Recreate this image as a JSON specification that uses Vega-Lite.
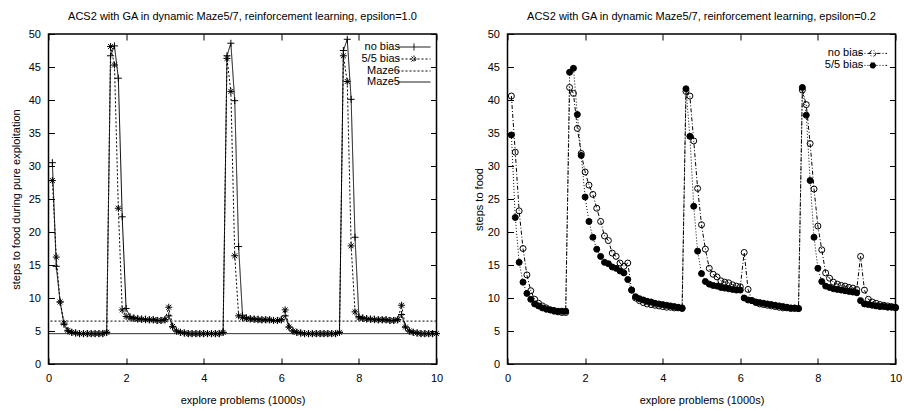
{
  "$schema": "https://vega.github.io/schema/vega-lite/v6.json",
  "padding": {"left": 9.5, "top": 9, "right": 5, "bottom": 5},
  "background": "white",
  "bounds": "flush",
  "spacing": 71,
  "config": {
    "font": "Liberation Sans",
    "view": {"stroke": "black", "strokeWidth": 1.5},
    "axis": {"grid": false, "domain": false, "ticks": true, "tickColor": "black", "tickWidth": 1, "tickSize": -6, "labelFlush": false, "labelFontSize": 11, "labelColor": "black", "titleFontSize": 11, "titleFontWeight": "normal", "titleColor": "black", "labelFont": "Liberation Sans", "titleFont": "Liberation Sans"},
    "axisBottom": {"labelPadding": 14, "titlePadding": 11},
    "axisLeft": {"labelPadding": 14, "titlePadding": 7},
    "title": {"fontSize": 11, "fontWeight": "normal", "font": "Liberation Sans", "color": "black", "frame": "group", "offset": 7, "dy": 0.5, "baseline": "alphabetic"}
  },
  "datasets": {
    "mazes": [{"series": "Maze6", "y": 6.5}, {"series": "Maze5", "y": 4.6}],
    "left": [
      {"x":0.1,"y":30.5,"series":"no bias"},{"x":0.2,"y":14.8,"series":"no bias"},{"x":0.3,"y":9.4,"series":"no bias"},{"x":0.4,"y":6.0,"series":"no bias"},{"x":0.5,"y":5.0,"series":"no bias"},
      {"x":0.6,"y":4.8,"series":"no bias"},{"x":0.7,"y":4.7,"series":"no bias"},{"x":0.8,"y":4.6,"series":"no bias"},{"x":0.9,"y":4.6,"series":"no bias"},{"x":1.0,"y":4.6,"series":"no bias"},
      {"x":1.1,"y":4.6,"series":"no bias"},{"x":1.2,"y":4.6,"series":"no bias"},{"x":1.3,"y":4.6,"series":"no bias"},{"x":1.4,"y":4.6,"series":"no bias"},{"x":1.5,"y":4.8,"series":"no bias"},
      {"x":1.6,"y":46.7,"series":"no bias"},{"x":1.7,"y":48.2,"series":"no bias"},{"x":1.8,"y":43.3,"series":"no bias"},{"x":1.9,"y":22.3,"series":"no bias"},{"x":2.0,"y":8.4,"series":"no bias"},
      {"x":2.1,"y":7.2,"series":"no bias"},{"x":2.2,"y":7.0,"series":"no bias"},{"x":2.3,"y":6.9,"series":"no bias"},{"x":2.4,"y":6.8,"series":"no bias"},{"x":2.5,"y":6.8,"series":"no bias"},
      {"x":2.6,"y":6.7,"series":"no bias"},{"x":2.7,"y":6.7,"series":"no bias"},{"x":2.8,"y":6.6,"series":"no bias"},{"x":2.9,"y":6.6,"series":"no bias"},{"x":3.0,"y":6.7,"series":"no bias"},
      {"x":3.1,"y":7.3,"series":"no bias"},{"x":3.2,"y":5.6,"series":"no bias"},{"x":3.3,"y":5.0,"series":"no bias"},{"x":3.4,"y":4.8,"series":"no bias"},{"x":3.5,"y":4.7,"series":"no bias"},
      {"x":3.6,"y":4.6,"series":"no bias"},{"x":3.7,"y":4.6,"series":"no bias"},{"x":3.8,"y":4.6,"series":"no bias"},{"x":3.9,"y":4.6,"series":"no bias"},{"x":4.0,"y":4.6,"series":"no bias"},
      {"x":4.1,"y":4.6,"series":"no bias"},{"x":4.2,"y":4.6,"series":"no bias"},{"x":4.3,"y":4.6,"series":"no bias"},{"x":4.4,"y":4.6,"series":"no bias"},{"x":4.5,"y":4.8,"series":"no bias"},
      {"x":4.6,"y":46.7,"series":"no bias"},{"x":4.7,"y":48.6,"series":"no bias"},{"x":4.8,"y":39.9,"series":"no bias"},{"x":4.9,"y":17.8,"series":"no bias"},{"x":5.0,"y":7.4,"series":"no bias"},
      {"x":5.1,"y":7.0,"series":"no bias"},{"x":5.2,"y":6.9,"series":"no bias"},{"x":5.3,"y":6.8,"series":"no bias"},{"x":5.4,"y":6.8,"series":"no bias"},{"x":5.5,"y":6.7,"series":"no bias"},
      {"x":5.6,"y":6.7,"series":"no bias"},{"x":5.7,"y":6.7,"series":"no bias"},{"x":5.8,"y":6.6,"series":"no bias"},{"x":5.9,"y":6.6,"series":"no bias"},{"x":6.0,"y":6.7,"series":"no bias"},
      {"x":6.1,"y":7.3,"series":"no bias"},{"x":6.2,"y":5.6,"series":"no bias"},{"x":6.3,"y":5.0,"series":"no bias"},{"x":6.4,"y":4.8,"series":"no bias"},{"x":6.5,"y":4.7,"series":"no bias"},
      {"x":6.6,"y":4.6,"series":"no bias"},{"x":6.7,"y":4.6,"series":"no bias"},{"x":6.8,"y":4.6,"series":"no bias"},{"x":6.9,"y":4.6,"series":"no bias"},{"x":7.0,"y":4.6,"series":"no bias"},
      {"x":7.1,"y":4.6,"series":"no bias"},{"x":7.2,"y":4.6,"series":"no bias"},{"x":7.3,"y":4.6,"series":"no bias"},{"x":7.4,"y":4.6,"series":"no bias"},{"x":7.5,"y":4.8,"series":"no bias"},
      {"x":7.6,"y":47.5,"series":"no bias"},{"x":7.7,"y":49.2,"series":"no bias"},{"x":7.8,"y":40.1,"series":"no bias"},{"x":7.9,"y":19.2,"series":"no bias"},{"x":8.0,"y":7.2,"series":"no bias"},
      {"x":8.1,"y":7.0,"series":"no bias"},{"x":8.2,"y":6.9,"series":"no bias"},{"x":8.3,"y":6.8,"series":"no bias"},{"x":8.4,"y":6.8,"series":"no bias"},{"x":8.5,"y":6.7,"series":"no bias"},
      {"x":8.6,"y":6.7,"series":"no bias"},{"x":8.7,"y":6.7,"series":"no bias"},{"x":8.8,"y":6.6,"series":"no bias"},{"x":8.9,"y":6.6,"series":"no bias"},{"x":9.0,"y":6.7,"series":"no bias"},
      {"x":9.1,"y":7.5,"series":"no bias"},{"x":9.2,"y":5.6,"series":"no bias"},{"x":9.3,"y":5.0,"series":"no bias"},{"x":9.4,"y":4.8,"series":"no bias"},{"x":9.5,"y":4.7,"series":"no bias"},
      {"x":9.6,"y":4.6,"series":"no bias"},{"x":9.7,"y":4.6,"series":"no bias"},{"x":9.8,"y":4.6,"series":"no bias"},{"x":9.9,"y":4.6,"series":"no bias"},{"x":10.0,"y":4.6,"series":"no bias"},
      {"x":0.1,"y":27.8,"series":"5/5 bias"},{"x":0.2,"y":16.2,"series":"5/5 bias"},{"x":0.3,"y":9.4,"series":"5/5 bias"},{"x":0.4,"y":6.2,"series":"5/5 bias"},{"x":0.5,"y":5.1,"series":"5/5 bias"},
      {"x":0.6,"y":4.8,"series":"5/5 bias"},{"x":0.7,"y":4.7,"series":"5/5 bias"},{"x":0.8,"y":4.6,"series":"5/5 bias"},{"x":0.9,"y":4.6,"series":"5/5 bias"},{"x":1.0,"y":4.6,"series":"5/5 bias"},
      {"x":1.1,"y":4.6,"series":"5/5 bias"},{"x":1.2,"y":4.6,"series":"5/5 bias"},{"x":1.3,"y":4.6,"series":"5/5 bias"},{"x":1.4,"y":4.6,"series":"5/5 bias"},{"x":1.5,"y":4.8,"series":"5/5 bias"},
      {"x":1.6,"y":48.1,"series":"5/5 bias"},{"x":1.7,"y":45.3,"series":"5/5 bias"},{"x":1.8,"y":23.6,"series":"5/5 bias"},{"x":1.9,"y":8.2,"series":"5/5 bias"},{"x":2.0,"y":7.2,"series":"5/5 bias"},
      {"x":2.1,"y":7.0,"series":"5/5 bias"},{"x":2.2,"y":6.9,"series":"5/5 bias"},{"x":2.3,"y":6.8,"series":"5/5 bias"},{"x":2.4,"y":6.8,"series":"5/5 bias"},{"x":2.5,"y":6.7,"series":"5/5 bias"},
      {"x":2.6,"y":6.7,"series":"5/5 bias"},{"x":2.7,"y":6.7,"series":"5/5 bias"},{"x":2.8,"y":6.6,"series":"5/5 bias"},{"x":2.9,"y":6.6,"series":"5/5 bias"},{"x":3.0,"y":6.7,"series":"5/5 bias"},
      {"x":3.1,"y":8.6,"series":"5/5 bias"},{"x":3.2,"y":5.7,"series":"5/5 bias"},{"x":3.3,"y":5.0,"series":"5/5 bias"},{"x":3.4,"y":4.8,"series":"5/5 bias"},{"x":3.5,"y":4.7,"series":"5/5 bias"},
      {"x":3.6,"y":4.6,"series":"5/5 bias"},{"x":3.7,"y":4.6,"series":"5/5 bias"},{"x":3.8,"y":4.6,"series":"5/5 bias"},{"x":3.9,"y":4.6,"series":"5/5 bias"},{"x":4.0,"y":4.6,"series":"5/5 bias"},
      {"x":4.1,"y":4.6,"series":"5/5 bias"},{"x":4.2,"y":4.6,"series":"5/5 bias"},{"x":4.3,"y":4.6,"series":"5/5 bias"},{"x":4.4,"y":4.6,"series":"5/5 bias"},{"x":4.5,"y":4.8,"series":"5/5 bias"},
      {"x":4.6,"y":46.3,"series":"5/5 bias"},{"x":4.7,"y":41.3,"series":"5/5 bias"},{"x":4.8,"y":16.4,"series":"5/5 bias"},{"x":4.9,"y":7.3,"series":"5/5 bias"},{"x":5.0,"y":7.0,"series":"5/5 bias"},
      {"x":5.1,"y":6.9,"series":"5/5 bias"},{"x":5.2,"y":6.8,"series":"5/5 bias"},{"x":5.3,"y":6.8,"series":"5/5 bias"},{"x":5.4,"y":6.7,"series":"5/5 bias"},{"x":5.5,"y":6.7,"series":"5/5 bias"},
      {"x":5.6,"y":6.7,"series":"5/5 bias"},{"x":5.7,"y":6.7,"series":"5/5 bias"},{"x":5.8,"y":6.6,"series":"5/5 bias"},{"x":5.9,"y":6.6,"series":"5/5 bias"},{"x":6.0,"y":6.7,"series":"5/5 bias"},
      {"x":6.1,"y":8.2,"series":"5/5 bias"},{"x":6.2,"y":5.6,"series":"5/5 bias"},{"x":6.3,"y":5.0,"series":"5/5 bias"},{"x":6.4,"y":4.8,"series":"5/5 bias"},{"x":6.5,"y":4.7,"series":"5/5 bias"},
      {"x":6.6,"y":4.6,"series":"5/5 bias"},{"x":6.7,"y":4.6,"series":"5/5 bias"},{"x":6.8,"y":4.6,"series":"5/5 bias"},{"x":6.9,"y":4.6,"series":"5/5 bias"},{"x":7.0,"y":4.6,"series":"5/5 bias"},
      {"x":7.1,"y":4.6,"series":"5/5 bias"},{"x":7.2,"y":4.6,"series":"5/5 bias"},{"x":7.3,"y":4.6,"series":"5/5 bias"},{"x":7.4,"y":4.6,"series":"5/5 bias"},{"x":7.5,"y":4.8,"series":"5/5 bias"},
      {"x":7.6,"y":46.7,"series":"5/5 bias"},{"x":7.7,"y":42.8,"series":"5/5 bias"},{"x":7.8,"y":17.9,"series":"5/5 bias"},{"x":7.9,"y":7.9,"series":"5/5 bias"},{"x":8.0,"y":7.0,"series":"5/5 bias"},
      {"x":8.1,"y":6.9,"series":"5/5 bias"},{"x":8.2,"y":6.8,"series":"5/5 bias"},{"x":8.3,"y":6.8,"series":"5/5 bias"},{"x":8.4,"y":6.7,"series":"5/5 bias"},{"x":8.5,"y":6.7,"series":"5/5 bias"},
      {"x":8.6,"y":6.7,"series":"5/5 bias"},{"x":8.7,"y":6.7,"series":"5/5 bias"},{"x":8.8,"y":6.6,"series":"5/5 bias"},{"x":8.9,"y":6.6,"series":"5/5 bias"},{"x":9.0,"y":6.7,"series":"5/5 bias"},
      {"x":9.1,"y":8.9,"series":"5/5 bias"},{"x":9.2,"y":5.6,"series":"5/5 bias"},{"x":9.3,"y":5.0,"series":"5/5 bias"},{"x":9.4,"y":4.8,"series":"5/5 bias"},{"x":9.5,"y":4.7,"series":"5/5 bias"},
      {"x":9.6,"y":4.6,"series":"5/5 bias"},{"x":9.7,"y":4.6,"series":"5/5 bias"},{"x":9.8,"y":4.6,"series":"5/5 bias"},{"x":9.9,"y":4.6,"series":"5/5 bias"},{"x":10.0,"y":4.6,"series":"5/5 bias"}
    ],
    "right": [
      {"x":0.1,"y":40.6,"series":"no bias"},{"x":0.2,"y":32.1,"series":"no bias"},{"x":0.3,"y":23.2,"series":"no bias"},{"x":0.4,"y":17.5,"series":"no bias"},{"x":0.5,"y":13.5,"series":"no bias"},
      {"x":0.6,"y":11.1,"series":"no bias"},{"x":0.7,"y":9.8,"series":"no bias"},{"x":0.8,"y":9.2,"series":"no bias"},{"x":0.9,"y":8.8,"series":"no bias"},{"x":1.0,"y":8.5,"series":"no bias"},
      {"x":1.1,"y":8.2,"series":"no bias"},{"x":1.2,"y":8.0,"series":"no bias"},{"x":1.3,"y":7.9,"series":"no bias"},{"x":1.4,"y":7.8,"series":"no bias"},{"x":1.5,"y":7.8,"series":"no bias"},
      {"x":1.6,"y":41.9,"series":"no bias"},{"x":1.7,"y":41.0,"series":"no bias"},{"x":1.8,"y":35.7,"series":"no bias"},{"x":1.9,"y":31.9,"series":"no bias"},{"x":2.0,"y":29.1,"series":"no bias"},
      {"x":2.1,"y":27.1,"series":"no bias"},{"x":2.2,"y":25.7,"series":"no bias"},{"x":2.3,"y":23.6,"series":"no bias"},{"x":2.4,"y":21.6,"series":"no bias"},{"x":2.5,"y":19.4,"series":"no bias"},
      {"x":2.6,"y":18.7,"series":"no bias"},{"x":2.7,"y":16.8,"series":"no bias"},{"x":2.8,"y":16.3,"series":"no bias"},{"x":2.9,"y":15.3,"series":"no bias"},{"x":3.0,"y":14.8,"series":"no bias"},
      {"x":3.1,"y":15.3,"series":"no bias"},{"x":3.2,"y":11.2,"series":"no bias"},{"x":3.3,"y":10.0,"series":"no bias"},{"x":3.4,"y":9.6,"series":"no bias"},{"x":3.5,"y":9.3,"series":"no bias"},
      {"x":3.6,"y":9.1,"series":"no bias"},{"x":3.7,"y":9.0,"series":"no bias"},{"x":3.8,"y":8.9,"series":"no bias"},{"x":3.9,"y":8.8,"series":"no bias"},{"x":4.0,"y":8.7,"series":"no bias"},
      {"x":4.1,"y":8.6,"series":"no bias"},{"x":4.2,"y":8.6,"series":"no bias"},{"x":4.3,"y":8.5,"series":"no bias"},{"x":4.4,"y":8.5,"series":"no bias"},{"x":4.5,"y":8.4,"series":"no bias"},
      {"x":4.6,"y":41.3,"series":"no bias"},{"x":4.7,"y":40.6,"series":"no bias"},{"x":4.8,"y":33.8,"series":"no bias"},{"x":4.9,"y":26.6,"series":"no bias"},{"x":5.0,"y":21.1,"series":"no bias"},
      {"x":5.1,"y":17.4,"series":"no bias"},{"x":5.2,"y":14.5,"series":"no bias"},{"x":5.3,"y":13.6,"series":"no bias"},{"x":5.4,"y":13.2,"series":"no bias"},{"x":5.5,"y":12.6,"series":"no bias"},
      {"x":5.6,"y":12.4,"series":"no bias"},{"x":5.7,"y":12.3,"series":"no bias"},{"x":5.8,"y":12.0,"series":"no bias"},{"x":5.9,"y":11.8,"series":"no bias"},{"x":6.0,"y":11.7,"series":"no bias"},
      {"x":6.1,"y":16.9,"series":"no bias"},{"x":6.2,"y":11.3,"series":"no bias"},{"x":6.3,"y":9.6,"series":"no bias"},{"x":6.4,"y":9.3,"series":"no bias"},{"x":6.5,"y":9.1,"series":"no bias"},
      {"x":6.6,"y":9.0,"series":"no bias"},{"x":6.7,"y":8.9,"series":"no bias"},{"x":6.8,"y":8.8,"series":"no bias"},{"x":6.9,"y":8.7,"series":"no bias"},{"x":7.0,"y":8.6,"series":"no bias"},
      {"x":7.1,"y":8.5,"series":"no bias"},{"x":7.2,"y":8.5,"series":"no bias"},{"x":7.3,"y":8.4,"series":"no bias"},{"x":7.4,"y":8.4,"series":"no bias"},{"x":7.5,"y":8.4,"series":"no bias"},
      {"x":7.6,"y":41.5,"series":"no bias"},{"x":7.7,"y":39.3,"series":"no bias"},{"x":7.8,"y":33.4,"series":"no bias"},{"x":7.9,"y":26.5,"series":"no bias"},{"x":8.0,"y":20.9,"series":"no bias"},
      {"x":8.1,"y":17.3,"series":"no bias"},{"x":8.2,"y":13.8,"series":"no bias"},{"x":8.3,"y":13.0,"series":"no bias"},{"x":8.4,"y":12.4,"series":"no bias"},{"x":8.5,"y":12.1,"series":"no bias"},
      {"x":8.6,"y":11.9,"series":"no bias"},{"x":8.7,"y":11.8,"series":"no bias"},{"x":8.8,"y":11.6,"series":"no bias"},{"x":8.9,"y":11.5,"series":"no bias"},{"x":9.0,"y":11.3,"series":"no bias"},
      {"x":9.1,"y":16.3,"series":"no bias"},{"x":9.2,"y":11.2,"series":"no bias"},{"x":9.3,"y":9.8,"series":"no bias"},{"x":9.4,"y":9.4,"series":"no bias"},{"x":9.5,"y":9.2,"series":"no bias"},
      {"x":9.6,"y":9.0,"series":"no bias"},{"x":9.7,"y":8.9,"series":"no bias"},{"x":9.8,"y":8.8,"series":"no bias"},{"x":9.9,"y":8.7,"series":"no bias"},{"x":10.0,"y":8.6,"series":"no bias"},
      {"x":0.1,"y":34.7,"series":"5/5 bias"},{"x":0.2,"y":22.2,"series":"5/5 bias"},{"x":0.3,"y":15.4,"series":"5/5 bias"},{"x":0.4,"y":12.4,"series":"5/5 bias"},{"x":0.5,"y":10.7,"series":"5/5 bias"},
      {"x":0.6,"y":9.8,"series":"5/5 bias"},{"x":0.7,"y":9.1,"series":"5/5 bias"},{"x":0.8,"y":8.8,"series":"5/5 bias"},{"x":0.9,"y":8.5,"series":"5/5 bias"},{"x":1.0,"y":8.3,"series":"5/5 bias"},
      {"x":1.1,"y":8.2,"series":"5/5 bias"},{"x":1.2,"y":8.1,"series":"5/5 bias"},{"x":1.3,"y":8.0,"series":"5/5 bias"},{"x":1.4,"y":8.0,"series":"5/5 bias"},{"x":1.5,"y":8.0,"series":"5/5 bias"},
      {"x":1.6,"y":44.2,"series":"5/5 bias"},{"x":1.7,"y":44.8,"series":"5/5 bias"},{"x":1.8,"y":37.8,"series":"5/5 bias"},{"x":1.9,"y":31.6,"series":"5/5 bias"},{"x":2.0,"y":25.3,"series":"5/5 bias"},
      {"x":2.1,"y":21.6,"series":"5/5 bias"},{"x":2.2,"y":19.2,"series":"5/5 bias"},{"x":2.3,"y":17.4,"series":"5/5 bias"},{"x":2.4,"y":16.3,"series":"5/5 bias"},{"x":2.5,"y":15.4,"series":"5/5 bias"},
      {"x":2.6,"y":15.2,"series":"5/5 bias"},{"x":2.7,"y":14.7,"series":"5/5 bias"},{"x":2.8,"y":14.5,"series":"5/5 bias"},{"x":2.9,"y":14.1,"series":"5/5 bias"},{"x":3.0,"y":13.8,"series":"5/5 bias"},
      {"x":3.1,"y":12.8,"series":"5/5 bias"},{"x":3.2,"y":11.2,"series":"5/5 bias"},{"x":3.3,"y":10.2,"series":"5/5 bias"},{"x":3.4,"y":9.9,"series":"5/5 bias"},{"x":3.5,"y":9.7,"series":"5/5 bias"},
      {"x":3.6,"y":9.5,"series":"5/5 bias"},{"x":3.7,"y":9.4,"series":"5/5 bias"},{"x":3.8,"y":9.2,"series":"5/5 bias"},{"x":3.9,"y":9.1,"series":"5/5 bias"},{"x":4.0,"y":9.0,"series":"5/5 bias"},
      {"x":4.1,"y":8.9,"series":"5/5 bias"},{"x":4.2,"y":8.8,"series":"5/5 bias"},{"x":4.3,"y":8.7,"series":"5/5 bias"},{"x":4.4,"y":8.6,"series":"5/5 bias"},{"x":4.5,"y":8.5,"series":"5/5 bias"},
      {"x":4.6,"y":41.7,"series":"5/5 bias"},{"x":4.7,"y":34.5,"series":"5/5 bias"},{"x":4.8,"y":23.9,"series":"5/5 bias"},{"x":4.9,"y":17.1,"series":"5/5 bias"},{"x":5.0,"y":13.7,"series":"5/5 bias"},
      {"x":5.1,"y":12.5,"series":"5/5 bias"},{"x":5.2,"y":12.1,"series":"5/5 bias"},{"x":5.3,"y":11.9,"series":"5/5 bias"},{"x":5.4,"y":11.8,"series":"5/5 bias"},{"x":5.5,"y":11.6,"series":"5/5 bias"},
      {"x":5.6,"y":11.5,"series":"5/5 bias"},{"x":5.7,"y":11.4,"series":"5/5 bias"},{"x":5.8,"y":11.3,"series":"5/5 bias"},{"x":5.9,"y":11.2,"series":"5/5 bias"},{"x":6.0,"y":11.2,"series":"5/5 bias"},
      {"x":6.1,"y":10.0,"series":"5/5 bias"},{"x":6.2,"y":9.7,"series":"5/5 bias"},{"x":6.3,"y":9.6,"series":"5/5 bias"},{"x":6.4,"y":9.4,"series":"5/5 bias"},{"x":6.5,"y":9.3,"series":"5/5 bias"},
      {"x":6.6,"y":9.2,"series":"5/5 bias"},{"x":6.7,"y":9.1,"series":"5/5 bias"},{"x":6.8,"y":9.0,"series":"5/5 bias"},{"x":6.9,"y":8.9,"series":"5/5 bias"},{"x":7.0,"y":8.8,"series":"5/5 bias"},
      {"x":7.1,"y":8.7,"series":"5/5 bias"},{"x":7.2,"y":8.6,"series":"5/5 bias"},{"x":7.3,"y":8.5,"series":"5/5 bias"},{"x":7.4,"y":8.5,"series":"5/5 bias"},{"x":7.5,"y":8.4,"series":"5/5 bias"},
      {"x":7.6,"y":41.9,"series":"5/5 bias"},{"x":7.7,"y":37.7,"series":"5/5 bias"},{"x":7.8,"y":27.8,"series":"5/5 bias"},{"x":7.9,"y":19.2,"series":"5/5 bias"},{"x":8.0,"y":14.5,"series":"5/5 bias"},
      {"x":8.1,"y":12.5,"series":"5/5 bias"},{"x":8.2,"y":11.8,"series":"5/5 bias"},{"x":8.3,"y":11.6,"series":"5/5 bias"},{"x":8.4,"y":11.4,"series":"5/5 bias"},{"x":8.5,"y":11.3,"series":"5/5 bias"},
      {"x":8.6,"y":11.2,"series":"5/5 bias"},{"x":8.7,"y":11.1,"series":"5/5 bias"},{"x":8.8,"y":11.0,"series":"5/5 bias"},{"x":8.9,"y":10.9,"series":"5/5 bias"},{"x":9.0,"y":10.8,"series":"5/5 bias"},
      {"x":9.1,"y":9.6,"series":"5/5 bias"},{"x":9.2,"y":9.1,"series":"5/5 bias"},{"x":9.3,"y":9.0,"series":"5/5 bias"},{"x":9.4,"y":8.9,"series":"5/5 bias"},{"x":9.5,"y":8.8,"series":"5/5 bias"},
      {"x":9.6,"y":8.7,"series":"5/5 bias"},{"x":9.7,"y":8.7,"series":"5/5 bias"},{"x":9.8,"y":8.6,"series":"5/5 bias"},{"x":9.9,"y":8.6,"series":"5/5 bias"},{"x":10.0,"y":8.5,"series":"5/5 bias"}
    ]
  },
  "hconcat": [
    {
      "width": 388,
      "height": 330,
      "title": "ACS2 with GA in dynamic Maze5/7, reinforcement learning, epsilon=1.0",
      "resolve": {"axis": {"x": "independent", "y": "independent"}, "scale": {"shape": "independent", "strokeDash": "independent"}},
      "layer": [
        {
          "data": {"name": "left"},
          "mark": {"type": "line", "color": "black", "strokeWidth": 1},
          "encoding": {
            "x": {"field": "x", "type": "quantitative", "scale": {"domain": [0, 10], "nice": false},
                  "axis": {"orient": "bottom", "values": [0, 2, 4, 6, 8, 10], "title": "explore problems (1000s)"}},
            "y": {"field": "y", "type": "quantitative", "scale": {"domain": [0, 50], "nice": false},
                  "axis": {"orient": "left", "values": [0, 5, 10, 15, 20, 25, 30, 35, 40, 45, 50], "title": "steps to food during pure exploitation"}},
            "strokeDash": {"field": "series", "type": "nominal",
              "scale": {"domain": ["no bias", "5/5 bias"], "range": [[1, 0], [2, 2]]}, "legend": null}
          }
        },
        {
          "data": {"name": "mazes"},
          "mark": {"type": "rule", "color": "black", "strokeWidth": 1},
          "encoding": {
            "y": {"field": "y", "type": "quantitative", "axis": null},
            "strokeDash": {"field": "series", "type": "nominal",
              "scale": {"domain": ["Maze6", "Maze5"], "range": [[2, 2], [1, 0]]}, "legend": null}
          }
        },
        {
          "data": {"name": "left"},
          "mark": {"type": "point", "filled": false, "stroke": "black", "strokeWidth": 1, "opacity": 1, "size": 49},
          "encoding": {
            "x": {"field": "x", "type": "quantitative", "scale": {"domain": [0, 10], "nice": false},
                  "axis": {"orient": "top", "values": [0, 2, 4, 6, 8, 10], "labels": false, "title": null}},
            "y": {"field": "y", "type": "quantitative", "scale": {"domain": [0, 50], "nice": false},
                  "axis": {"orient": "right", "values": [0, 5, 10, 15, 20, 25, 30, 35, 40, 45, 50], "labels": false, "title": null}},
            "shape": {"field": "series", "type": "nominal",
              "scale": {"domain": ["no bias", "5/5 bias"], "range": ["M-1,0H1M0,-1V1", "M-1,0H1M0,-1V1M-0.7,-0.7L0.7,0.7M-0.7,0.7L0.7,-0.7"]},
              "legend": null}
          }
        },
        {
          "data": {"name": "mazes"},
          "mark": {"type": "point", "filled": false, "stroke": "black", "strokeWidth": 1, "opacity": 0},
          "encoding": {
            "y": {"field": "y", "type": "quantitative", "axis": null},
            "shape": {"field": "series", "type": "nominal",
              "scale": {"domain": ["no bias", "5/5 bias", "Maze6", "Maze5"],
                        "range": ["M-3,0H3M0,-0.64V0.64", "M-3,0H3M-0.64,0H0.64M0,-0.64V0.64M-0.45,-0.45L0.45,0.45M-0.45,0.45L0.45,-0.45", "M-3,0H3", "M-3,0H3"]},
              "legend": {"title": null, "orient": "none", "legendX": 349, "legendY": 7,
                "symbolSize": 121, "symbolOffset": 10.5, "labelOffset": -20, "labelAlign": "right",
                "rowPadding": -1, "padding": 0, "symbolStrokeWidth": 1, "symbolStrokeColor": "black", "symbolOpacity": 1,
                "labelFontSize": 11, "labelColor": "black", "labelFont": "Liberation Sans"}},
            "strokeDash": {"field": "series", "type": "nominal",
              "scale": {"domain": ["no bias", "5/5 bias", "Maze6", "Maze5"],
                        "range": [[1, 0], [2,2,2,2,2,2,2,2,2,2,2,2,2,2,2,2,41,0], [2, 2], [1, 0]]},
              "legend": {"title": null, "orient": "none", "legendX": 349, "legendY": 7,
                "symbolSize": 121, "symbolOffset": 10.5, "labelOffset": -20, "labelAlign": "right",
                "rowPadding": -1, "padding": 0, "symbolStrokeWidth": 1, "symbolStrokeColor": "black", "symbolOpacity": 1,
                "labelFontSize": 11, "labelColor": "black", "labelFont": "Liberation Sans"}}
          }
        }
      ]
    },
    {
      "width": 388,
      "height": 330,
      "title": "ACS2 with GA in dynamic Maze5/7, reinforcement learning, epsilon=0.2",
      "resolve": {"axis": {"x": "independent", "y": "independent"}, "scale": {"shape": "independent", "strokeDash": "independent", "fill": "independent", "stroke": "independent"}},
      "layer": [
        {
          "data": {"name": "right"},
          "mark": {"type": "line", "color": "black", "strokeWidth": 1},
          "encoding": {
            "x": {"field": "x", "type": "quantitative", "scale": {"domain": [0, 10], "nice": false},
                  "axis": {"orient": "bottom", "values": [0, 2, 4, 6, 8, 10], "title": "explore problems (1000s)"}},
            "y": {"field": "y", "type": "quantitative", "scale": {"domain": [0, 50], "nice": false},
                  "axis": {"orient": "left", "values": [0, 5, 10, 15, 20, 25, 30, 35, 40, 45, 50], "title": "steps to food", "titlePadding": 3}},
            "strokeDash": {"field": "series", "type": "nominal",
              "scale": {"domain": ["no bias", "5/5 bias"], "range": [[4, 2, 1, 2], [1, 2]]}, "legend": null}
          }
        },
        {
          "data": {"name": "right"},
          "mark": {"type": "point", "shape": "circle", "stroke": "black", "strokeWidth": 1, "opacity": 1, "size": 36},
          "encoding": {
            "x": {"field": "x", "type": "quantitative", "scale": {"domain": [0, 10], "nice": false},
                  "axis": {"orient": "top", "values": [0, 2, 4, 6, 8, 10], "labels": false, "title": null}},
            "y": {"field": "y", "type": "quantitative", "scale": {"domain": [0, 50], "nice": false},
                  "axis": {"orient": "right", "values": [0, 5, 10, 15, 20, 25, 30, 35, 40, 45, 50], "labels": false, "title": null}},
            "fill": {"field": "series", "type": "nominal",
              "scale": {"domain": ["no bias", "5/5 bias"], "range": ["transparent", "black"]}, "legend": null}
          }
        },
        {
          "data": {"name": "right"},
          "mark": {"type": "point", "strokeWidth": 1, "opacity": 0},
          "encoding": {
            "x": {"field": "x", "type": "quantitative", "axis": null},
            "y": {"field": "y", "type": "quantitative", "axis": null},
            "shape": {"field": "series", "type": "nominal",
              "scale": {"domain": ["no bias", "5/5 bias"],
                        "range": ["M-2.6,0H2.6M0.55,0L0.476,0.275L0.275,0.476L0,0.55L-0.275,0.476L-0.476,0.275L-0.55,0L-0.476,-0.275L-0.275,-0.476L0,-0.55L0.275,-0.476L0.476,-0.275Z", "M-2.6,0H2.6M0.55,0L0.476,0.275L0.275,0.476L0,0.55L-0.275,0.476L-0.476,0.275L-0.55,0L-0.476,-0.275L-0.275,-0.476L0,-0.55L0.275,-0.476L0.476,-0.275Z"]},
              "legend": {"title": null, "orient": "none", "legendX": 351, "legendY": 13.4,
                "symbolSize": 121, "symbolOffset": 8.3, "labelOffset": -15.5, "labelAlign": "right",
                "rowPadding": -3, "padding": 0, "symbolStrokeWidth": 1, "symbolOpacity": 1,
                "labelFontSize": 11, "labelColor": "black", "labelFont": "Liberation Sans"}},
            "strokeDash": {"field": "series", "type": "nominal",
              "scale": {"domain": ["no bias", "5/5 bias"],
                        "range": [[4,2,1,2,4,2,1,2,4,2,1,2,40,0], [1,2,1,2,1,2,1,2,1,2,1,2,1,2,1,2,1,2,40,0]]},
              "legend": {"title": null, "orient": "none", "legendX": 351, "legendY": 13.4,
                "symbolSize": 121, "symbolOffset": 8.3, "labelOffset": -15.5, "labelAlign": "right",
                "rowPadding": -3, "padding": 0, "symbolStrokeWidth": 1, "symbolOpacity": 1,
                "labelFontSize": 11, "labelColor": "black", "labelFont": "Liberation Sans"}},
            "fill": {"field": "series", "type": "nominal",
              "scale": {"domain": ["no bias", "5/5 bias"], "range": ["transparent", "black"]},
              "legend": {"title": null, "orient": "none", "legendX": 351, "legendY": 13.4,
                "symbolSize": 121, "symbolOffset": 8.3, "labelOffset": -15.5, "labelAlign": "right",
                "rowPadding": -3, "padding": 0, "symbolStrokeWidth": 1, "symbolOpacity": 1,
                "labelFontSize": 11, "labelColor": "black", "labelFont": "Liberation Sans"}},
            "stroke": {"field": "series", "type": "nominal",
              "scale": {"domain": ["no bias", "5/5 bias"], "range": ["black", "black"]},
              "legend": {"title": null, "orient": "none", "legendX": 351, "legendY": 13.4,
                "symbolSize": 121, "symbolOffset": 8.3, "labelOffset": -15.5, "labelAlign": "right",
                "rowPadding": -3, "padding": 0, "symbolStrokeWidth": 1, "symbolOpacity": 1,
                "labelFontSize": 11, "labelColor": "black", "labelFont": "Liberation Sans"}}
          }
        }
      ]
    }
  ]
}
